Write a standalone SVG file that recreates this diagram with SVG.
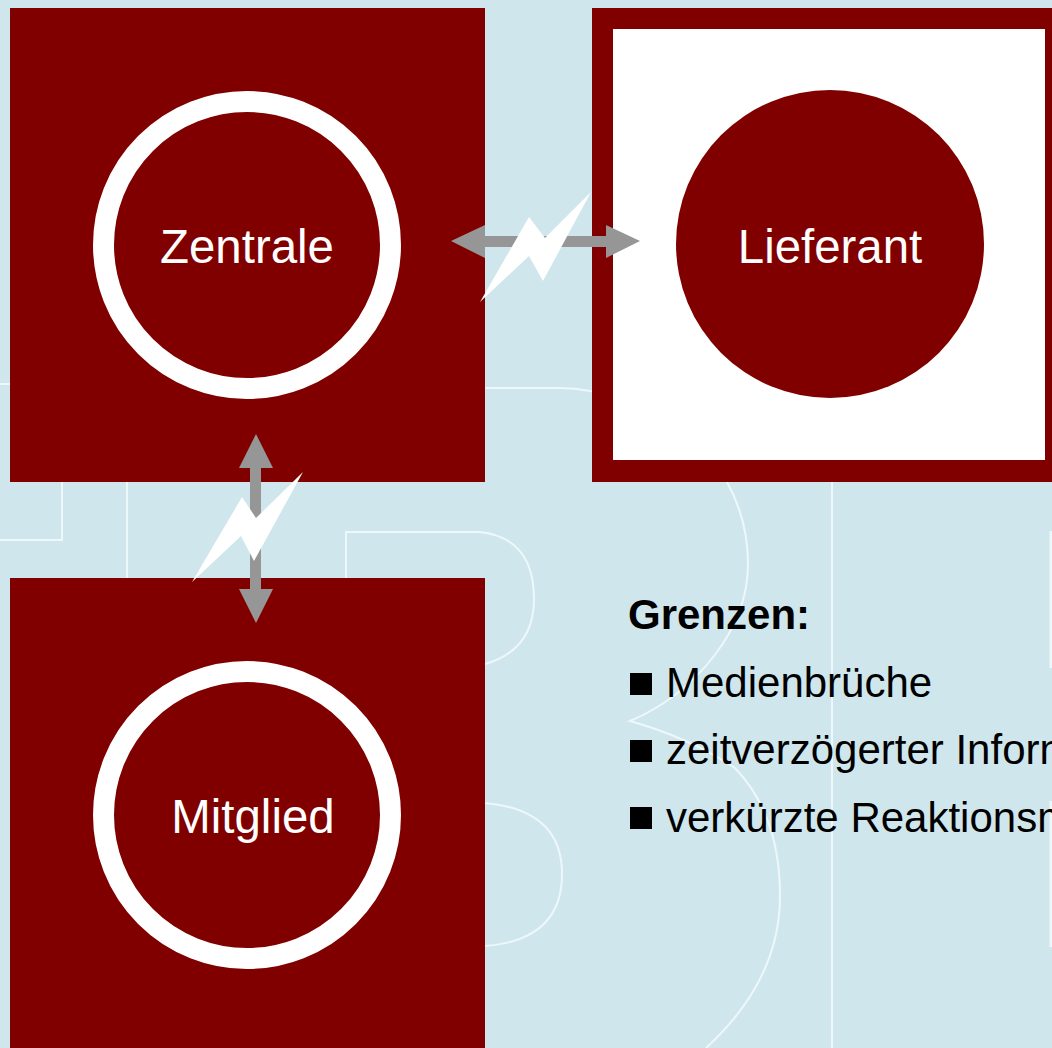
<svg xmlns="http://www.w3.org/2000/svg" width="1052" height="1048" viewBox="0 0 1052 1048">
<style>
.bg{fill:none;stroke:#eef8fa;stroke-width:2}
.box{fill:#800000}
.ring{fill:#800000;stroke:#fff;stroke-width:21}
.disc{fill:#800000}
.lbl{font-family:"Liberation Sans",Arial,sans-serif;font-size:47.4px;fill:#fff;text-anchor:middle}
.t{font-family:"Liberation Sans",Arial,sans-serif;font-size:42px;fill:#000}
.arrow{fill:#969696}
.bolt{fill:#fff}
</style>
<rect width="1052" height="1048" fill="#cfe6ec"/>
<g id="background">
<path class="bg" d="M0 384H10M0 540H62V482M127 482V578M485 388H560Q590 388 620 400M727 482Q748 520 748 564Q748 612 714 656Q680 700 630 721Q690 738 735 768Q780 815 780 896Q780 980 706 1048M346 578V532H480Q534 538 534 599Q534 650 485 664M485 803Q562 810 562 874Q562 940 485 946"/>
<path class="bg" stroke-width="3" d="M832 482V1048"/>
<path class="bg" style="stroke-width:3" d="M1051 531V668M1051 801V947"/>
</g>
<g id="zentrale">
<rect class="box" x="10" y="8" width="475" height="474"/>
<circle class="ring" cx="247" cy="245" r="143.500"/>
<text class="lbl" x="247" y="263">Zentrale</text>
</g>
<g id="lieferant">
<rect class="box" x="592" y="8" width="460" height="474"/>
<rect x="613" y="29" width="432" height="431" fill="#fff"/>
<circle class="disc" cx="830" cy="244" r="154"/>
<text class="lbl" x="830" y="263">Lieferant</text>
</g>
<g id="mitglied">
<rect class="box" x="10" y="578" width="475" height="470"/>
<circle class="ring" cx="247" cy="815" r="143.500"/>
<text class="lbl" x="253" y="833">Mitglied</text>
</g>
<g id="connectors">
<polygon class="arrow" points="451,241 485,225 485,236 606,236 606,225 640,241 606,258 606,247 485,247 485,258"/>
<polygon class="bolt" points="591,192 545,238 529,217 480,302 529,256 543,281"/>
<polygon class="arrow" points="256,434 273,468 261,468 261,589 273,589 256,623 239,589 250,589 250,468 239,468"/>
<polygon class="bolt" points="303,472 256,518 242,497 192,582 241,536 254,561"/>
</g>
<g id="grenzen">
<text class="t" x="628" y="629" font-weight="bold">Grenzen:</text>
<rect x="630" y="673" width="22" height="22"/>
<text class="t" x="666" y="697">Medienbrüche</text>
<rect x="630" y="740" width="22" height="22"/>
<text class="t" x="666" y="764">zeitverzögerter Inform</text>
<rect x="630" y="807" width="22" height="22"/>
<text class="t" x="666" y="832">verkürzte Reaktionsm</text>
</g>
</svg>
